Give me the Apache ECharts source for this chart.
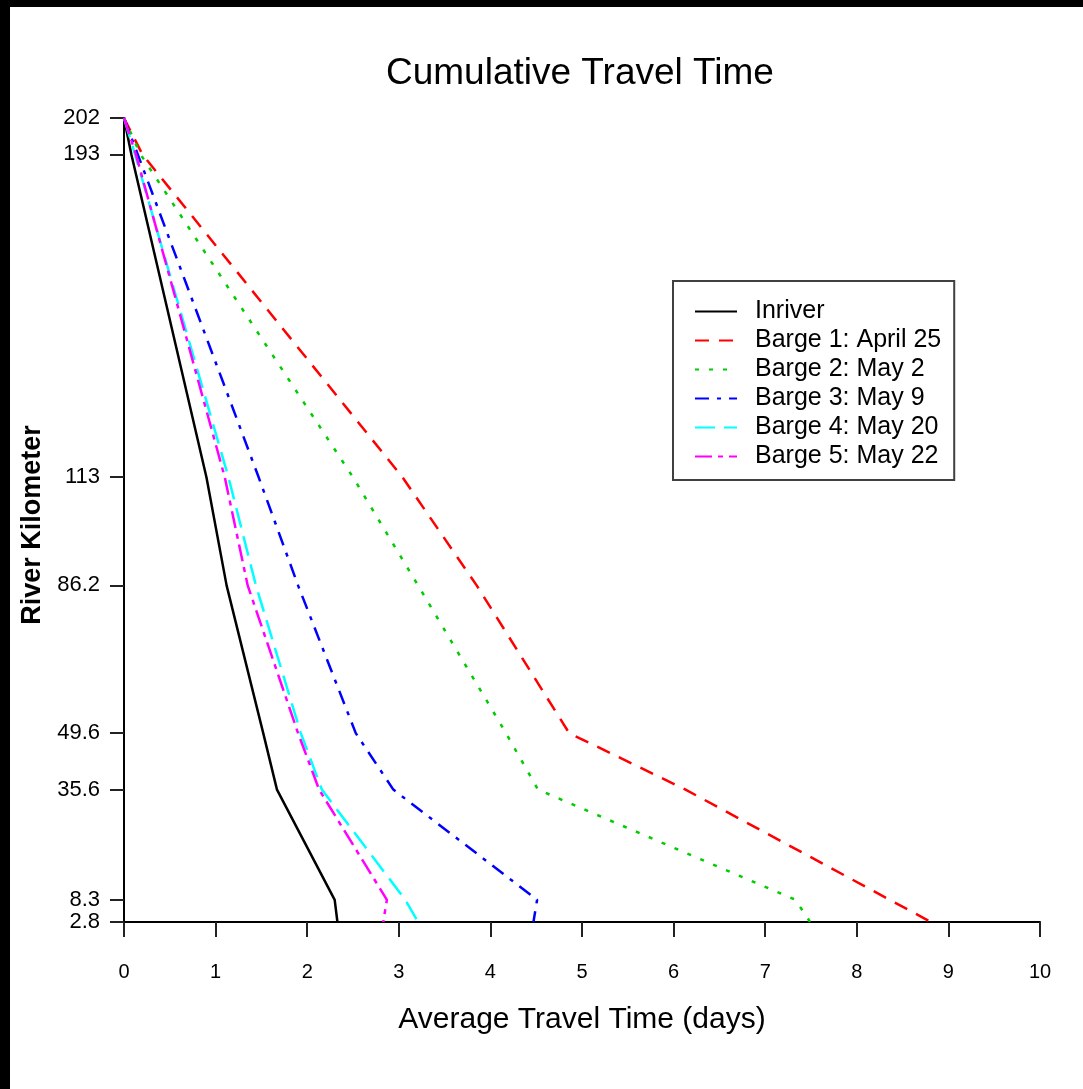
<!DOCTYPE html>
<html><head><meta charset="utf-8">
<script src="https://cdn.jsdelivr.net/npm/echarts@6/dist/echarts.min.js"></script>
<style>
html,body{margin:0;padding:0;background:#000;width:1083px;height:1089px;overflow:hidden;}
#bg{position:absolute;left:10px;top:7px;width:1073px;height:1082px;background:#fff;}
#chart{position:absolute;left:0;top:0;width:1083px;height:1089px;}
</style></head><body><div id="bg"></div><div id="chart"></div>
<script>
// River kilometre of each observation point (y values)
const riverKm = [202, 193, 113, 86.2, 49.6, 35.6, 8.3, 2.8];
// Labelled ticks on the y axis
const yTickValues = [202, 193, 113, 86.2, 49.6, 35.6, 8.3, 2.8];
// Series names
const seriesNames = ['Inriver', 'Barge 1: April 25', 'Barge 2: May 2', 'Barge 3: May 9', 'Barge 4: May 20', 'Barge 5: May 22'];
// Cumulative average travel time (days) at each river km
const inriver = [0, 0.08, 0.90, 1.12, 1.52, 1.67, 2.30, 2.33];
const barge1  = [0, 0.20, 3.04, 3.85, 4.86, 6.13, 8.36, 8.81];
const barge2  = [0, 0.18, 2.50, 3.21, 4.17, 4.52, 7.33, 7.49];
const barge3  = [0, 0.15, 1.47, 1.90, 2.53, 2.94, 4.51, 4.47];
const barge4  = [0, 0.12, 1.14, 1.44, 1.93, 2.16, 3.07, 3.21];
const barge5  = [0, 0.13, 1.10, 1.35, 1.90, 2.13, 2.87, 2.83];

const FONT = '"Liberation Sans", Arial, sans-serif';
const allValues = [inriver, barge1, barge2, barge3, barge4, barge5];
const colors = ['#000000', '#ff0000', '#00cc00', '#0000ff', '#00ffff', '#ff00ff'];
const dashes = ['solid', [14, 10], [4, 10], [14, 8, 4, 8], [20, 9], [17, 6, 5, 6]];

const series = allValues.map((vals, i) => ({
  name: seriesNames[i],
  type: 'line',
  symbol: 'none',
  symbolSize: 0,
  data: vals.map((t, k) => [t, riverKm[k]]),
  lineStyle: { color: colors[i], width: 2.5, type: dashes[i] },
  itemStyle: { color: colors[i] },
  animation: false
}));

const chart = echarts.init(document.getElementById('chart'), null, { renderer: 'canvas' });
chart.setOption({
  backgroundColor: 'transparent',
  animation: false,
  title: {
    text: 'Cumulative Travel Time',
    left: 386, top: 55, padding: 0,
    textStyle: { fontFamily: FONT, fontSize: 37, fontWeight: 'normal', color: '#000' }
  },
  legend: {
    orient: 'vertical',
    left: 673, top: 281,
    padding: [18, 13, 11, 21],
    itemWidth: 42, itemHeight: 14, itemGap: 4,
    borderColor: '#404040', borderWidth: 2,
    itemStyle: { opacity: 0 },
    textStyle: { fontFamily: FONT, fontSize: 25, color: '#000', padding: [0, 0, 0, 13] },
    data: seriesNames
  },
  grid: { left: 124, top: 118, right: 43, bottom: 167, containLabel: false },
  xAxis: {
    type: 'value', min: 0, max: 10, interval: 1,
    name: 'Average Travel Time (days)', nameLocation: 'middle', nameGap: 83,
    nameTextStyle: { fontFamily: FONT, fontSize: 30, color: '#000' },
    axisLine: { show: true, lineStyle: { color: '#000', width: 2 } },
    axisTick: { show: true, length: 15, lineStyle: { color: '#222', width: 2 } },
    axisLabel: { margin: 40, fontFamily: FONT, fontSize: 20, color: '#000' },
    splitLine: { show: false }
  },
  yAxis: {
    type: 'value', min: 2.8, max: 202,
    name: 'River Kilometer', nameLocation: 'middle', nameGap: 71, nameRotate: 90,
    nameTextStyle: { fontFamily: FONT, fontSize: 27, fontWeight: 'bold', color: '#000', padding: [0, 10, 0, 0] },
    axisLine: { show: true, lineStyle: { color: '#000', width: 2 } },
    axisTick: { show: true, length: 14, customValues: yTickValues, lineStyle: { color: '#222', width: 2 } },
    axisLabel: { margin: 24, fontFamily: FONT, fontSize: 22, color: '#000', hideOverlap: false, showMinLabel: true, showMaxLabel: true, customValues: yTickValues, formatter: v => String(v) },
    splitLine: { show: false }
  },
  series: series
});
</script></body></html>
